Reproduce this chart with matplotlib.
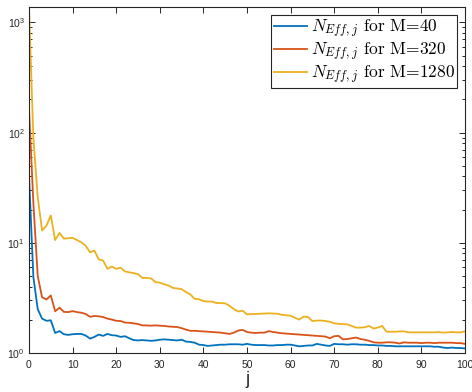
import numpy as np
import matplotlib
matplotlib.use("Agg")
import matplotlib.pyplot as plt
from matplotlib.ticker import LogLocator, FixedLocator

plt.rcParams['font.family'] = ['Liberation Sans', 'DejaVu Sans']
plt.rcParams['mathtext.fontset'] = 'cm'

j = list(range(101))

neff_m40 = [
    40.7, 4.9, 2.5, 2.05, 1.96, 1.98, 1.52, 1.58, 1.48, 1.46,
    1.48, 1.49, 1.49, 1.44, 1.35, 1.40, 1.47, 1.43, 1.49, 1.45,
    1.44, 1.40, 1.42, 1.36, 1.31, 1.30, 1.31, 1.30, 1.29, 1.30,
    1.32, 1.33, 1.32, 1.31, 1.30, 1.32, 1.27, 1.26, 1.24, 1.19,
    1.18, 1.16, 1.17, 1.18, 1.19, 1.19, 1.20, 1.20, 1.20, 1.19,
    1.21, 1.19, 1.18, 1.18, 1.18, 1.17, 1.17, 1.18, 1.18, 1.19,
    1.19, 1.17, 1.15, 1.16, 1.17, 1.17, 1.21, 1.19, 1.17, 1.16,
    1.21, 1.20, 1.20, 1.19, 1.20, 1.20, 1.19, 1.19, 1.18, 1.18,
    1.17, 1.17, 1.16, 1.16, 1.15, 1.15, 1.15, 1.15, 1.15, 1.15,
    1.15, 1.15, 1.15, 1.14, 1.14, 1.12, 1.11, 1.12, 1.11, 1.11,
    1.10]

neff_m320 = [
    164, 23, 5.0, 3.2, 3.06, 3.33, 2.39, 2.58, 2.36, 2.35,
    2.40, 2.35, 2.32, 2.26, 2.13, 2.17, 2.15, 2.12, 2.05, 2.01,
    1.96, 1.95, 1.89, 1.88, 1.86, 1.83, 1.78, 1.78, 1.77, 1.78,
    1.77, 1.76, 1.74, 1.73, 1.72, 1.68, 1.63, 1.59, 1.59, 1.58,
    1.57, 1.56, 1.55, 1.54, 1.53, 1.51, 1.49, 1.53, 1.60, 1.62,
    1.55, 1.53, 1.52, 1.53, 1.53, 1.58, 1.55, 1.53, 1.51, 1.50,
    1.49, 1.48, 1.47, 1.46, 1.45, 1.44, 1.43, 1.42, 1.41, 1.36,
    1.42, 1.43, 1.33, 1.34, 1.36, 1.38, 1.34, 1.32, 1.29, 1.25,
    1.24, 1.24, 1.25, 1.25, 1.24, 1.22, 1.25, 1.24, 1.24, 1.24,
    1.23, 1.24, 1.24, 1.23, 1.24, 1.24, 1.24, 1.24, 1.23, 1.23,
    1.21]

neff_m1280 = [
    1350, 90, 26, 12.9, 14.3, 17.7, 10.6, 12.3, 10.9, 11.0,
    11.1, 10.6, 10.1, 9.4, 8.2, 8.5, 7.06, 6.9, 5.8, 6.1,
    5.8, 5.95, 5.5, 5.4, 5.3, 5.2, 4.8, 4.8, 4.75, 4.4,
    4.35, 4.2, 4.1, 3.9, 3.85, 3.8, 3.57, 3.4, 3.1, 3.07,
    2.96, 2.93, 2.93, 2.84, 2.84, 2.82, 2.68, 2.50, 2.38, 2.42,
    2.24, 2.26, 2.26, 2.27, 2.28, 2.29, 2.28, 2.27, 2.22, 2.20,
    2.18, 2.09, 2.01, 2.14, 2.12, 1.95, 1.97, 1.97, 1.95, 1.92,
    1.86, 1.84, 1.83, 1.82, 1.76, 1.70, 1.70, 1.71, 1.76, 1.67,
    1.70, 1.76, 1.56, 1.56, 1.56, 1.57, 1.57, 1.54, 1.54, 1.54,
    1.54, 1.54, 1.54, 1.54, 1.55, 1.53, 1.54, 1.55, 1.54, 1.54,
    1.57]

series_labels = [r'$N_{Eff,j}$ for M=40',
                 r'$N_{Eff,j}$ for M=320',
                 r'$N_{Eff,j}$ for M=1280']
colors = ['#0072BD', '#D95319', '#EDB120']
x_ticks = [0, 10, 20, 30, 40, 50, 60, 70, 80, 90, 100]

fig = plt.figure(figsize=(4.72, 3.92), dpi=100)
ax = fig.add_axes([29/472, 39/392, (465-29)/472, (385-39)/392])

for vals, lab, c in zip([neff_m40, neff_m320, neff_m1280], series_labels, colors):
    ax.plot(j, vals, color=c, lw=1.3, label=lab)

ax.set_yscale('log')
ax.set_xlim(0, 100)
ax.set_ylim(1, 1380)
ax.xaxis.set_major_locator(FixedLocator(x_ticks))
ax.yaxis.set_major_locator(LogLocator(base=10, numticks=10))
ax.yaxis.set_minor_locator(LogLocator(base=10, subs=np.arange(2, 10), numticks=10))

dark = '#262626'
for s in ax.spines.values():
    s.set_color(dark)
    s.set_linewidth(0.8)
ax.tick_params(which='both', direction='in', top=True, right=True, colors=dark,
               labelsize=7.5, width=0.7)
ax.tick_params(which='major', length=4)
ax.tick_params(which='minor', length=2.2)
ax.tick_params(axis='x', pad=5)
ax.tick_params(axis='y', pad=3)

ax.set_xlabel('j', fontsize=13, color=dark, labelpad=1)

leg = ax.legend(loc='upper right', prop={'family': 'cmr10', 'size': 12.5},
                frameon=True, fancybox=False,
                edgecolor=dark, framealpha=1, handlelength=1.9, handletextpad=0.2,
                borderpad=0.15, labelspacing=0.05, borderaxespad=0.45)
leg.get_frame().set_linewidth(0.8)

fig.savefig('out.png', dpi=100)
